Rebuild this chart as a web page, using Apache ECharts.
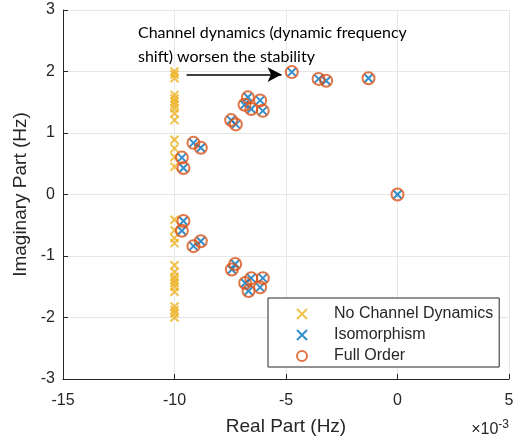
<!DOCTYPE html>
<html>
<head>
<meta charset="utf-8">
<script src="https://cdn.jsdelivr.net/npm/echarts@6/dist/echarts.min.js"></script>
<style>
  html, body { margin: 0; padding: 0; background: #fff; }
  #chart { width: 522px; height: 439px; }
</style>
</head>
<body>
<div id="chart"></div>
<script>
// real part in units of 1e-3 Hz, imaginary part in Hz
const noChannelDynamics = [
  [-10, 2.0], [-10, 1.95], [-10, 1.89], [-10, 1.62], [-10, 1.56], [-10, 1.51], [-10, 1.46],
  [-10, 1.40], [-10, 1.32], [-10, 1.21], [-10, 0.89], [-10, 0.75], [-10, 0.61], [-10, 0.45],
  [-10, -0.41], [-10, -0.58], [-10, -0.71], [-10, -0.79], [-10, -1.15], [-10, -1.26], [-10, -1.34],
  [-10, -1.39], [-10, -1.44], [-10, -1.50], [-10, -1.58], [-10, -1.82], [-10, -1.88], [-10, -1.93], [-10, -2.0]
];
const isomorphism = [
  [-4.74, 1.99], [-3.54, 1.88], [-3.2, 1.85], [-1.3, 1.89], [0, 0],
  [-6.71, 1.58], [-6.16, 1.53], [-6.86, 1.46], [-6.56, 1.39], [-6.04, 1.36],
  [-7.46, 1.21], [-7.25, 1.14], [-9.15, 0.84], [-8.82, 0.76], [-9.67, 0.60], [-9.6, 0.43],
  [-4.74, -1.99], [-3.54, -1.88], [-3.2, -1.85], [-1.3, -1.89],
  [-6.68, -1.57], [-6.16, -1.51], [-6.83, -1.44], [-6.56, -1.36], [-6.04, -1.36],
  [-7.43, -1.22], [-7.28, -1.13], [-9.15, -0.84], [-8.82, -0.76], [-9.67, -0.59], [-9.6, -0.43]
];
const fullOrder = [
  [-4.74, 1.99], [-3.54, 1.88], [-3.2, 1.85], [-1.3, 1.89], [0, 0],
  [-6.71, 1.58], [-6.16, 1.53], [-6.86, 1.46], [-6.56, 1.39], [-6.04, 1.36],
  [-7.46, 1.21], [-7.25, 1.14], [-9.15, 0.84], [-8.82, 0.76], [-9.67, 0.60], [-9.6, 0.43],
  [-4.74, -1.99], [-3.54, -1.88], [-3.2, -1.85], [-1.3, -1.89],
  [-6.68, -1.57], [-6.16, -1.51], [-6.83, -1.44], [-6.56, -1.36], [-6.04, -1.36],
  [-7.43, -1.22], [-7.28, -1.13], [-9.15, -0.84], [-8.82, -0.76], [-9.67, -0.59], [-9.6, -0.43]
];
const arrowFrom = [-9.46, 1.95];
const arrowTo = [-5.2, 1.95];

const axisColor = '#262626';
const gridColor = '#e6e6e6';
const cross = 'path://M0,0L10,10M10,0L0,10';

const chart = echarts.init(document.getElementById('chart'));
chart.setOption({
  animation: false,
  textStyle: { fontFamily: 'Liberation Sans' },
  grid: { left: 63, right: 13, top: 10, bottom: 60, outerBoundsMode: 'none', containLabel: false },
  xAxis: {
    type: 'value', min: -15, max: 5, interval: 5,
    name: 'Real Part (Hz)', nameLocation: 'middle', nameGap: 38,
    nameTextStyle: { fontSize: 19, color: axisColor },
    axisLine: { onZero: false, lineStyle: { color: axisColor } },
    axisTick: { inside: true, length: 5, lineStyle: { color: axisColor } },
    axisLabel: { fontSize: 16, color: axisColor, margin: 14 },
    splitLine: { lineStyle: { color: gridColor } }
  },
  yAxis: {
    type: 'value', min: -3, max: 3, interval: 1,
    name: 'Imaginary Part (Hz)', nameLocation: 'middle', nameGap: 21,
    nameTextStyle: { fontSize: 19, color: axisColor },
    axisLine: { show: true, onZero: false, lineStyle: { color: axisColor } },
    axisTick: { show: true, inside: true, length: 5, lineStyle: { color: axisColor } },
    axisLabel: { fontSize: 16, color: axisColor, margin: 8 },
    splitLine: { lineStyle: { color: gridColor } }
  },
  legend: {
    orient: 'vertical', left: 268, top: 298,
    backgroundColor: '#fff', borderColor: axisColor, borderWidth: 1, borderRadius: 0,
    padding: [8, 6, 3, 28], itemWidth: 10, itemHeight: 10, itemGap: 5,
    textStyle: { fontSize: 16, color: axisColor, padding: [0, 0, 0, 22] },
    data: ['No Channel Dynamics', 'Isomorphism', 'Full Order']
  },
  series: [
    {
      name: 'No Channel Dynamics', type: 'scatter', data: noChannelDynamics,
      symbol: cross, symbolSize: 8,
      itemStyle: { color: 'transparent', borderColor: '#EDB120', borderWidth: 2 }
    },
    {
      name: 'Isomorphism', type: 'scatter', data: isomorphism,
      symbol: cross, symbolSize: 8,
      itemStyle: { color: 'transparent', borderColor: '#0072BD', borderWidth: 2 },
      markLine: {
        silent: true, symbol: ['none', 'arrow'], symbolSize: [11, 14],
        lineStyle: { color: '#000', width: 1.5, type: 'solid' },
        label: { show: false },
        data: [[{ coord: arrowFrom }, { coord: arrowTo }]]
      }
    },
    {
      name: 'Full Order', type: 'scatter', data: fullOrder,
      symbol: 'circle', symbolSize: 12,
      itemStyle: { color: 'transparent', borderColor: '#D95319', borderWidth: 2 }
    }
  ],
  graphic: [
    {
      type: 'text', left: 138, top: 21, z: 10,
      style: {
        text: 'Channel dynamics (dynamic frequency\nshift) worsen the stability',
        font: '16px Lato', fill: '#000', lineHeight: 24
      }
    },
    {
      type: 'text', right: 13, top: 419, z: 10,
      style: {
        text: '×10{sup|-3}', font: '16px "Liberation Sans"', fill: axisColor,
        rich: { sup: { fontSize: 12, verticalAlign: 'top', padding: [0, 0, 10, 0], fill: axisColor } }
      }
    }
  ]
});
</script>
</body>
</html>
